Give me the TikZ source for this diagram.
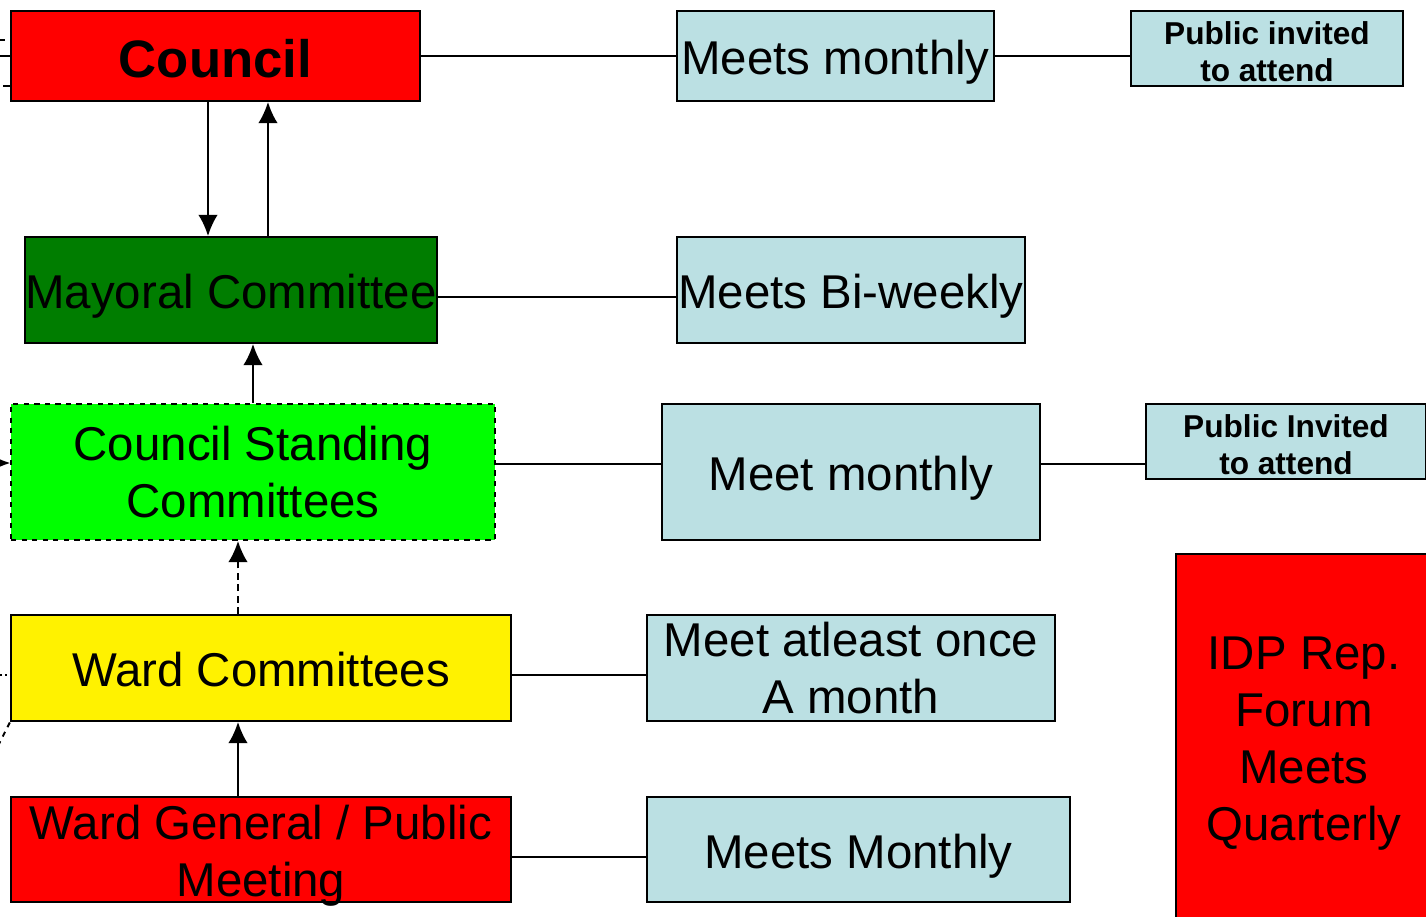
\documentclass[tikz,border=0pt]{standalone}
\usepackage{fontspec}
\setmainfont{Liberation Sans}
\usetikzlibrary{arrows.meta}
\definecolor{meetblue}{RGB}{187,224,227}
\definecolor{mayorgreen}{RGB}{0,125,0}
\definecolor{standgreen}{RGB}{0,255,0}
\tikzset{
  body/.style={draw, line width=1.1pt, inner sep=0pt, align=center,
    font=\fontsize{27}{32.3}\selectfont},
  oneline/.style={text height=22.5pt, text depth=0.9pt},
  meet/.style={body, fill=meetblue},
  public/.style={meet, text height=38pt, text depth=0pt, font=\fontsize{18}{21.5}\selectfont\bfseries},
  link/.style={line width=1.1pt},
  longdash/.style={dash pattern=on 4pt off 2.5pt},
}
\begin{document}
\begin{tikzpicture}[>={Latex[length=12pt,width=11pt]}, x=0.02cm, y=-0.02cm]
\useasboundingbox[fill=white] (0,0) rectangle (1426,916);
% council row
\node[body, text height=24.5pt, text depth=0.5pt, fill=red, minimum width=8.18cm, minimum height=1.8cm,
  font=\fontsize{30}{36}\selectfont\bfseries] (council) at (215.5,56) {Council};
\node[meet, oneline, minimum width=6.34cm, minimum height=1.8cm] (monthly) at (835.5,56) {Meets monthly};
\node[public, minimum width=5.44cm, minimum height=1.5cm] (pubone) at (1267,48.5) {Public invited\\to attend};
\draw[link] (council.east) -- (monthly.west);
\draw[link] (monthly.east) -- (monthly.east -| pubone.west);
% mayoral committee
\node[body, oneline, fill=mayorgreen, minimum width=8.16cm, minimum height=2.12cm] (mayor) at (231,290) {Mayoral Committee};
\node[meet, oneline, minimum width=6.96cm, minimum height=2.12cm] (biweekly) at (851,290) {Meets Bi-weekly};
\draw[link] ([yshift=-0.14cm]mayor.east) -- ([yshift=-0.14cm]mayor.east -| biweekly.west);
\draw[link,->] ([xshift=-0.15cm]council.south) -- ([xshift=-0.15cm]council.south |- mayor.north);
\draw[link,->] ([xshift=1.05cm]council.south |- mayor.north) -- ([xshift=1.05cm]council.south);
% standing committees
\node[body, dashed, fill=standgreen, minimum width=9.68cm, minimum height=2.72cm] (standing) at (253,472)
  {Council Standing\\Committees};
\node[meet, oneline, minimum width=7.56cm, minimum height=2.72cm] (meetmonthly) at (851,472) {Meet monthly};
\node[public, minimum width=5.6cm, minimum height=1.5cm] (pubtwo) at (1286,441.5) {Public Invited\\to attend};
\draw[link] ([yshift=0.16cm]standing.east) -- ([yshift=0.16cm]standing.east -| meetmonthly.west);
\draw[link] ([yshift=0.16cm]meetmonthly.east) -- ([yshift=0.16cm]meetmonthly.east -| pubtwo.west);
\draw[link,->] (standing.north) -- (standing.north |- mayor.south);
% IDP forum
\node[body, text height=119pt, text depth=0pt, fill=red, minimum width=5.12cm, minimum height=7.28cm,
  font=\fontsize{27}{32.5}\selectfont] (idp) at (1304,736)
  {IDP Rep.\\Forum\\Meets\\Quarterly};
% ward committees
\node[body, oneline, fill=yellow, minimum width=10cm, minimum height=2.12cm] (ward) at (261,668) {Ward Committees};
\node[meet, minimum width=8.16cm, minimum height=2.12cm] (atleast) at (851,668) {Meet atleast once\\A month};
\draw[link] ([yshift=-0.14cm]ward.east) -- ([yshift=-0.14cm]ward.east -| atleast.west);
\draw[link,longdash,->] ([xshift=-0.46cm]ward.north) -- ([xshift=-0.46cm]ward.north |- standing.south);
% ward general meeting
\node[body, text height=54pt, text depth=0.9pt, fill=red, minimum width=10cm, minimum height=2.1cm] (general) at (261,849.5)
  {Ward General / Public\\Meeting};
\node[meet, oneline, minimum width=8.46cm, minimum height=2.1cm] (mmonthly) at (858.5,849.5) {Meets Monthly};
\draw[link] ([yshift=-0.15cm]general.east) -- ([yshift=-0.15cm]general.east -| mmonthly.west);
\draw[link,->] ([xshift=-0.46cm]general.north) -- ([xshift=-0.46cm]general.north |- ward.south);
% stubs at the left edge
\coordinate (edgea) at (0,40);
\coordinate (edgeb) at (0,56);
\coordinate (edgec) at (3,86);
\coordinate (edged) at (-12,463);
\coordinate (edgee) at (0,675);
\coordinate (edgef) at (-2,746);
\draw[link,dashed] (edgea) -- (council.west |- edgea);
\draw[link] (edgeb) -- (council.west |- edgeb);
\draw[link] (edgec) -- (council.west |- edgec);
\draw[link,->] (edged) -- (standing.west |- edged);
\draw[link,dotted] (edgee) -- (ward.west |- edgee);
\draw[link,dashed] (edgef) -- (ward.south west);
\end{tikzpicture}
\end{document}
